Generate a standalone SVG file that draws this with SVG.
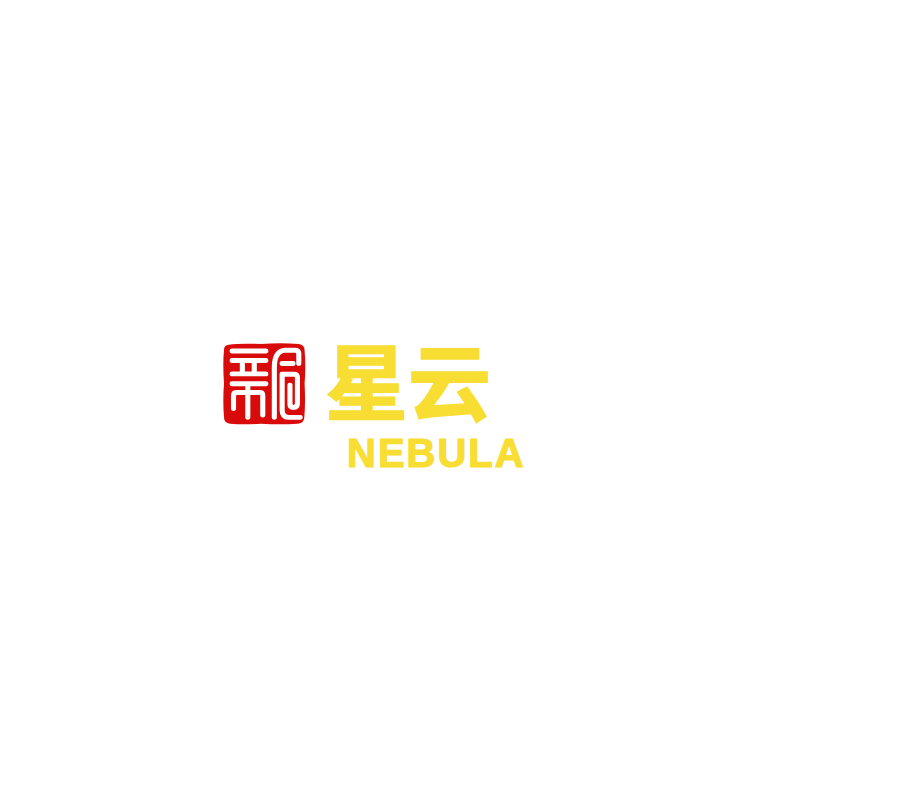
<svg xmlns="http://www.w3.org/2000/svg" width="900" height="800" viewBox="0 0 900 800">
<style>
.seal-line{fill:none;stroke:#fff;stroke-width:15;stroke-linecap:round;stroke-linejoin:round}
.brand{fill:#f8dd33;stroke:#f8dd33;font-weight:700}
</style>
<rect width="900" height="800" fill="#fff"/>
<g id="seal" transform="translate(224 344) scale(.34 .332) translate(-42 -41)">
<path d="M56 43 Q90 38 150 41 Q210 37 262 41 Q279 43 279 60 Q283 110 279 160 Q282 220 278 264 Q276 281 258 281 Q210 285 150 281 Q100 285 60 281 Q42 280 42 262 Q38 210 42 160 Q38 100 42 58 Q42 44 56 43Z" fill="#d80a0a"/>
<path class="seal-line" d="M66 62H165M66 91H165M96 95V128M131 95V128M66 131H165M66 161H165"/>
<path class="seal-line" d="M70 235V196Q70 187 80 187H147Q156 187 156 196V255M112 166V262"/>
<path class="seal-line" d="M262 100V70Q262 60 250 60H222Q190 62 190 112V262"/>
<path class="seal-line" d="M213 100H245M213 132V240Q213 262 232 262H266"/>
<path class="seal-line" d="M236 165V222Q236 232 246 232Q258 232 258 220V142Q258 132 248 132H215"/>
</g>
<g id="title">
<text class="brand" x="325" y="414" font-size="83" stroke-width="1.5" font-family="'Noto Sans CJK SC','Noto Sans',sans-serif" font-weight="900">星云</text>
<text class="brand" x="347" y="467" font-size="40" stroke-width="1.2" letter-spacing="2" font-family="'Liberation Sans',Arial,sans-serif">NEBULA</text>
</g>
</svg>
